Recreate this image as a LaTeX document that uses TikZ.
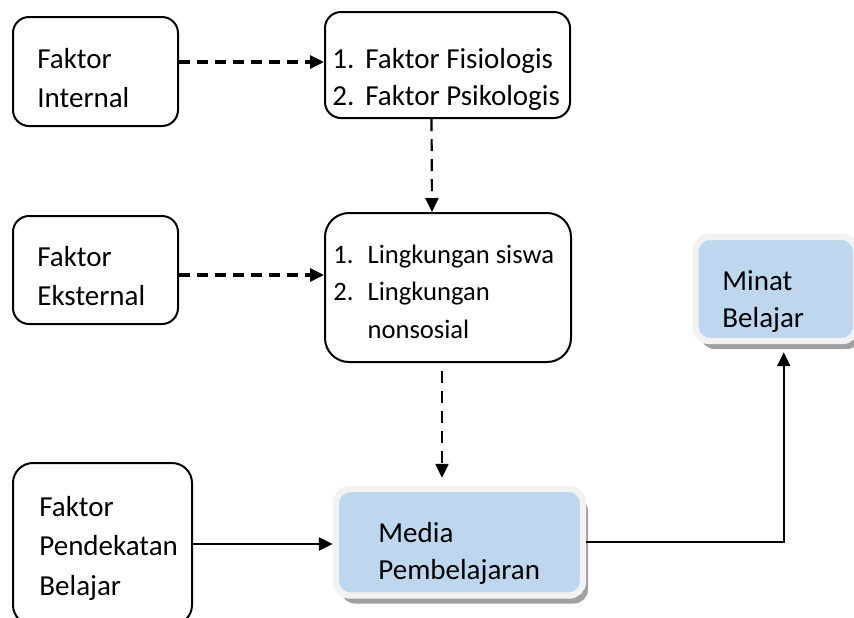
\documentclass[tikz,border=0pt]{standalone}
\usepackage{fontspec}
\setmainfont{Carlito}
\usetikzlibrary{arrows.meta,shadows,calc}
\definecolor{resultblue}{RGB}{189,215,238}
\definecolor{framegray}{RGB}{242,242,242}
\definecolor{shadowgray}{RGB}{160,160,160}
\newcommand{\textrows}[1]{\begin{tabular}[t]{@{}l@{}}#1\end{tabular}}
\newcommand{\itemrows}[2]{\begin{tabular}[t]{@{}l@{\hspace{#1}}l@{}}#2\end{tabular}}

\begin{document}
\begin{tikzpicture}[x=0.5pt, y=-0.5pt,
                    >={Triangle[length=7pt, width=6.5pt]},
                    factor/.style = {rectangle, draw=black, line width=1pt, rounded corners=8pt, inner sep=0pt},
                    result/.style = {rectangle, fill=resultblue, draw=framegray, line width=3.2pt, rounded corners=7pt,
                            inner sep=0pt, drop shadow={shadow xshift=2.5pt, shadow yshift=-4pt, fill=shadowgray, opacity=1}},
                    caption/.style = {inner sep=0pt, anchor=base west, font=\fontsize{14.5}{19.5}\selectfont},
                    influence/.style = {->, dash pattern=on 5.5pt off 3.5pt, line width=1.6pt},
                    descent/.style = {->, dash pattern=on 6pt off 4pt, line width=1.1pt},
                    effect/.style = {->, line width=1.2pt} ]

                \useasboundingbox (0,0) rectangle (854,617);
                \clip (0,0) rectangle (854,617);

                % factors on the left
                \node [factor, minimum width=82.5pt, minimum height=54.5pt] (internal) at (95.5,71.5) {};
                \node [caption] (internal text) at (37,68) {\textrows{Faktor\\Internal}};
                \node [factor, minimum width=82.5pt, minimum height=54pt] (eksternal) at (95.5,270) {};
                \node [caption] (eksternal text) at (37,266) {\textrows{Faktor\\Eksternal}};
                \node [factor, minimum width=89.5pt, minimum height=81pt, rounded corners=10pt] (pendekatan) at (102.5,544) {};
                \node [caption, font=\fontsize{14.5}{19.75}\selectfont] (pendekatan text) at (39,516) {\textrows{Faktor\\Pendekatan\\Belajar}};

                % sub factors in the middle
                \node [factor, minimum width=122.5pt, minimum height=53pt] (fisik) at (447.5,65) {};
                \node [caption, font=\fontsize{14.5}{18.5}\selectfont] (fisik text) at (332,68)
                    {\itemrows{5.5pt}{1. & Faktor Fisiologis\\ 2. & Faktor Psikologis}};
                \node [factor, minimum width=123pt, minimum height=74.5pt, rounded corners=12pt] (lingkungan) at (448,287.5) {};
                \node [caption, font=\fontsize{13.3}{18.75}\selectfont] (lingkungan text) at (333,263)
                    {\itemrows{7pt}{1. & Lingkungan siswa\\ 2. & Lingkungan\\ & nonsosial}};

                % results
                \node [result, minimum width=123.5pt, minimum height=53.25pt] (media) at (459.5,542.25) {};
                \node [caption, font=\fontsize{14.5}{18.5}\selectfont] (media text) at (378,542) {\textrows{Media\\Pembelajaran}};
                \node [result, minimum width=80.25pt, minimum height=52pt] (minat) at (775.75,289) {};
                \node [caption, font=\fontsize{14.5}{18.5}\selectfont] (minat text) at (722,290) {\textrows{Minat\\Belajar}};

                % connectors
                \draw [influence] ([yshift=1.5pt]internal.east |- fisik.west) -- ([yshift=1.5pt]fisik.west);
                \draw [influence] ([yshift=-2.5pt]eksternal.east) -- ([yshift=-2.5pt]eksternal.east -| lingkungan.west);
                \draw [descent] ([xshift=-8pt]fisik.south) -- ([xshift=-8pt]lingkungan.north);
                \draw [descent, shorten <=4pt, shorten >=4pt] ([xshift=-3pt]lingkungan.south) -- ([xshift=-3pt]lingkungan.south |- media.north);
                \draw [effect] (pendekatan.east) -- (pendekatan.east -| media.west);
                \draw [effect, line width=1pt] (media.east) -| ([xshift=4pt, yshift=-4pt]minat.south);

\end{tikzpicture}
\end{document}
